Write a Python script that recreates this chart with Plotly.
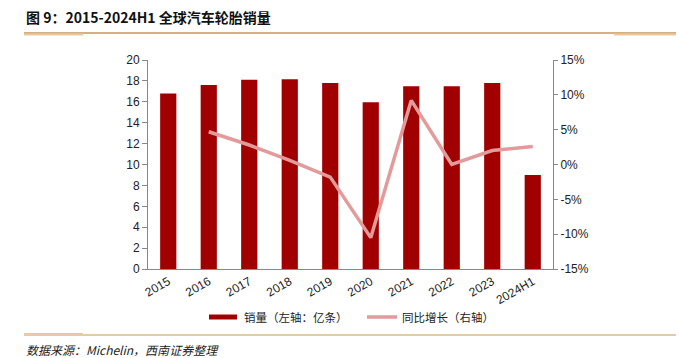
import plotly.graph_objects as go

categories = ["2015", "2016", "2017", "2018", "2019", "2020", "2021", "2022", "2023", "2024H1"]
sales = [16.8, 17.6, 18.1, 18.15, 17.8, 15.95, 17.5, 17.5, 17.8, 9.0]
growth = [None, 4.7, 2.8, 0.6, -1.8, -10.5, 9.2, 0.0, 2.0, 2.6]

left_ticks = [0, 2, 4, 6, 8, 10, 12, 14, 16, 18, 20]
right_ticks = [-15, -10, -5, 0, 5, 10, 15]

BAR_COLOR = "#A00000"
LINE_COLOR = "#E39A9A"
FONT = "Liberation Sans, Arial, Noto Sans CJK SC"
CJK = "Noto Sans CJK SC, Liberation Sans"

fig = go.Figure()
fig.add_trace(go.Bar(
    x=categories, y=sales, name="销量（左轴：亿条）",
    marker=dict(color=BAR_COLOR, line=dict(width=0)), width=0.4,
))
fig.add_trace(go.Scatter(
    x=categories, y=growth, name="同比增长（右轴）", yaxis="y2",
    mode="lines", line=dict(color=LINE_COLOR, width=3.5),
))

L, R, T, B = 148, 126, 60, 89
W = 679 - L - R
H = 358 - T - B

fig.update_layout(
    width=679, height=358,
    margin=dict(l=L, r=R, t=T, b=B, pad=0),
    paper_bgcolor="white", plot_bgcolor="white",
    font=dict(family=FONT, size=12, color="#222"),
    showlegend=False,
    xaxis=dict(type="category", showline=True, linecolor="#888", linewidth=1,
               ticks="", tickangle=-30, tickfont=dict(size=12, color="#222"),
               showgrid=False, range=[-0.5, 9.5]),
    yaxis=dict(range=[0, 20], tickvals=left_ticks, showline=True, linecolor="#888", linewidth=1,
               ticks="outside", ticklen=5, tickcolor="#888", showgrid=False, zeroline=False,
               tickfont=dict(size=12, color="#222")),
    yaxis2=dict(range=[-15, 15], tickvals=right_ticks, ticktext=[f"{v}%" for v in right_ticks],
                overlaying="y", side="right", showline=True, linecolor="#888", linewidth=1,
                ticks="outside", ticklen=4, tickcolor="#888", showgrid=False, zeroline=False,
                tickfont=dict(size=12, color="#222")),
)

def px_x(x):
    return (x - L) / W

def px_y(y):
    return (358 - B - y) / H

shapes = [
    # header rule
    dict(type="line", xref="paper", yref="paper", x0=px_x(24), x1=px_x(676), y0=px_y(33), y1=px_y(33),
         line=dict(color="#C9965A", width=1.5)),
    dict(type="line", xref="paper", yref="paper", x0=px_x(24), x1=px_x(83), y0=px_y(34.5), y1=px_y(34.5),
         line=dict(color="#E8C9A0", width=2)),
    dict(type="line", xref="paper", yref="paper", x0=px_x(614), x1=px_x(676), y0=px_y(34.5), y1=px_y(34.5),
         line=dict(color="#E8C9A0", width=2)),
    # footer rule
    dict(type="line", xref="paper", yref="paper", x0=px_x(24), x1=px_x(676), y0=px_y(335), y1=px_y(335),
         line=dict(color="#C9965A", width=1)),
    dict(type="line", xref="paper", yref="paper", x0=px_x(24), x1=px_x(83), y0=px_y(334), y1=px_y(334),
         line=dict(color="#E8C9A0", width=2)),
    # legend swatches
    dict(type="rect", xref="paper", yref="paper", x0=px_x(209), x1=px_x(237), y0=px_y(319.5), y1=px_y(314.5),
         fillcolor=BAR_COLOR, line=dict(width=0)),
    dict(type="line", xref="paper", yref="paper", x0=px_x(367), x1=px_x(397), y0=px_y(317), y1=px_y(317),
         line=dict(color=LINE_COLOR, width=3.5)),
]
fig.update_layout(shapes=shapes)

fig.add_annotation(xref="paper", yref="paper", x=px_x(242), y=px_y(317), xanchor="left", yanchor="middle",
                   text="销量（左轴：亿条）", showarrow=False,
                   font=dict(family=CJK, size=11.5, color="#222"))
fig.add_annotation(xref="paper", yref="paper", x=px_x(400), y=px_y(317), xanchor="left", yanchor="middle",
                   text="同比增长（右轴）", showarrow=False,
                   font=dict(family=CJK, size=11.5, color="#222"))

fig.add_annotation(xref="paper", yref="paper", x=px_x(24), y=px_y(17), xanchor="left", yanchor="middle",
                   text="<b>图 9：2015-2024H1 全球汽车轮胎销量</b>", showarrow=False,
                   font=dict(family=CJK, size=14, color="#111"))
fig.add_annotation(xref="paper", yref="paper", x=px_x(24), y=px_y(349.5), xanchor="left", yanchor="middle",
                   text="<i>数据来源：Michelin，西南证券整理</i>", showarrow=False,
                   font=dict(family=CJK, size=12, color="#222"))

fig.write_html("out.html", config={"displayModeBar": False},
               post_script="document.body.style.margin='0';document.body.style.padding='0';")
